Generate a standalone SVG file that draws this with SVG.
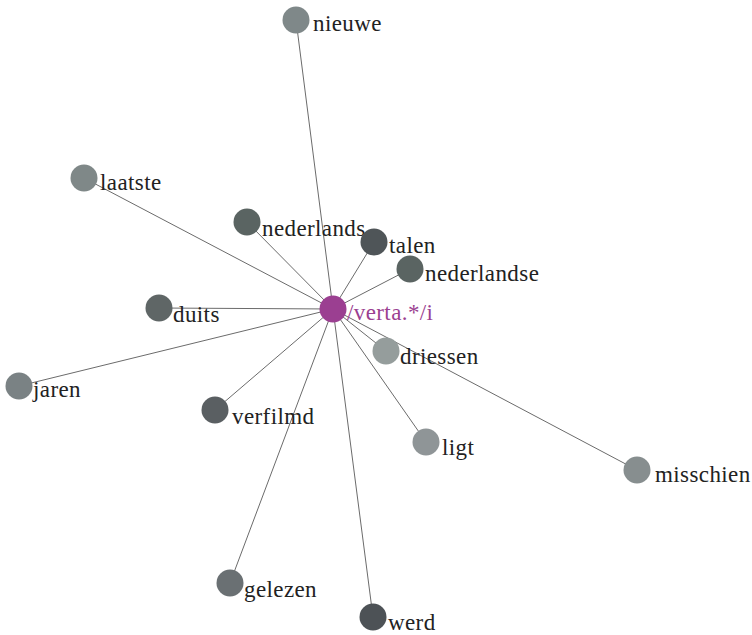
<svg xmlns="http://www.w3.org/2000/svg" width="752" height="635" viewBox="0 0 752 635">
<style>
.e{stroke:#6b6b6b;stroke-width:1;fill:none}
text{font-family:"Liberation Serif","Times New Roman",serif;font-size:23px;letter-spacing:0.4px;fill:#222}
.c text{fill:#9b3f91}
</style>
<rect width="752" height="635" fill="#fff"/>
<g id="connectors">
<line class="e" x1="333" y1="309" x2="296" y2="20"/>
<line class="e" x1="333" y1="309" x2="84" y2="178"/>
<line class="e" x1="333" y1="309" x2="247" y2="222"/>
<line class="e" x1="333" y1="309" x2="374" y2="242"/>
<line class="e" x1="333" y1="309" x2="410" y2="269"/>
<line class="e" x1="333" y1="309" x2="159" y2="308"/>
<line class="e" x1="333" y1="309" x2="386" y2="351"/>
<line class="e" x1="333" y1="309" x2="19" y2="386"/>
<line class="e" x1="333" y1="309" x2="215" y2="410"/>
<line class="e" x1="333" y1="309" x2="426" y2="442"/>
<line class="e" x1="333" y1="309" x2="637" y2="470"/>
<line class="e" x1="333" y1="309" x2="230" y2="583"/>
<line class="e" x1="333" y1="309" x2="373" y2="617"/>
</g>
<g id="n-nieuwe"><circle cx="296" cy="20" r="13.5" fill="#7f8889"/><text x="313" y="31">nieuwe</text></g>
<g id="n-laatste"><circle cx="84" cy="178" r="13.5" fill="#7f8888"/><text x="100" y="190">laatste</text></g>
<g id="n-nederlands"><circle cx="247" cy="222" r="13.5" fill="#5a6462"/><text x="262" y="236">nederlands</text></g>
<g id="n-talen"><circle cx="374" cy="242" r="13.5" fill="#4f5558"/><text x="389" y="253">talen</text></g>
<g id="n-nederlandse"><circle cx="410" cy="269" r="13.5" fill="#5a6462"/><text x="425" y="281">nederlandse</text></g>
<g id="n-duits"><circle cx="159" cy="308" r="13.5" fill="#5f6666"/><text x="173" y="322">duits</text></g>
<g id="n-driessen"><circle cx="386" cy="351" r="13.5" fill="#959d9c"/><text x="400" y="364">driessen</text></g>
<g id="n-jaren"><circle cx="19" cy="386" r="13.5" fill="#7a8284"/><text x="33" y="397">jaren</text></g>
<g id="n-verfilmd"><circle cx="215" cy="410" r="13.5" fill="#5a5f62"/><text x="232" y="424">verfilmd</text></g>
<g id="n-ligt"><circle cx="426" cy="442" r="13.5" fill="#8f9597"/><text x="442" y="455">ligt</text></g>
<g id="n-misschien"><circle cx="637" cy="470" r="13.5" fill="#878e8f"/><text x="655" y="482">misschien</text></g>
<g id="n-gelezen"><circle cx="230" cy="583" r="13.5" fill="#6a7073"/><text x="244" y="597">gelezen</text></g>
<g id="n-werd"><circle cx="373" cy="617" r="13.5" fill="#4d5256"/><text x="388" y="630">werd</text></g>
<g id="n-center" class="c"><circle cx="333" cy="309" r="13.5" fill="#9b3f91"/><text x="347" y="320">/verta.*/i</text></g>
</svg>
